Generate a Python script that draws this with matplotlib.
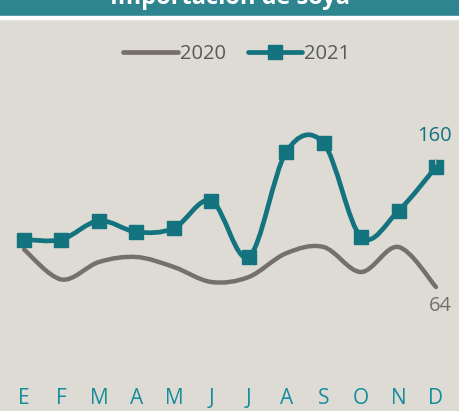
import matplotlib.pyplot as plt
import numpy as np
from matplotlib.path import Path
from matplotlib.patches import PathPatch
from matplotlib.lines import Line2D

meses = ['E', 'F', 'M', 'A', 'M', 'J', 'J', 'A', 'S', 'O', 'N', 'D']
y2020 = [94, 70, 84, 88, 80, 68, 72, 91, 96, 76, 96, 64]
y2021 = [102, 102, 117, 108, 111, 133, 88, 172, 179, 104, 125, 160]

fondo = '#dedbd5'
gris = '#75706a'
verde = '#13737f'

plt.rcParams['font.family'] = ['Open Sans', 'DejaVu Sans']


def suave(x, y):
    # curva suavizada tipo Excel (Bezier cubica)
    p = np.column_stack([x, y]).astype(float)
    p = np.vstack([p[0], p, p[-1]])
    verts = [p[1]]
    codes = [Path.MOVETO]
    for i in range(1, len(p) - 2):
        c1 = p[i] + (p[i + 1] - p[i - 1]) / 6
        c2 = p[i + 1] - (p[i + 2] - p[i]) / 6
        verts += [c1, c2, p[i + 1]]
        codes += [Path.CURVE4] * 3
    return Path(verts, codes)


fig = plt.figure(figsize=(4.6, 4.11), dpi=100, facecolor=fondo)
ax = fig.add_axes([5.3 / 460, 1 - 360 / 411, 449.4 / 460, 260 / 411])
ax.set_facecolor(fondo)

x = np.arange(len(meses))
ax.add_patch(PathPatch(suave(x, y2020), fill=False, ec=gris, lw=3.2, capstyle='round'))
ax.add_patch(PathPatch(suave(x, y2021), fill=False, ec=verde, lw=3.4, capstyle='round'))
ax.plot(x, y2021, 's', color=verde, ms=10, ls='none')

ax.annotate(str(y2021[-1]), (x[-1], y2021[-1]), xytext=(-1, 22), textcoords='offset points',
            ha='center', va='center', fontsize=14.5, color=verde,
            arrowprops=dict(arrowstyle='-', color='#b5b1ab', lw=1, shrinkA=7, shrinkB=2))
ax.annotate(str(y2020[-1]), (x[-1], y2020[-1]), xytext=(3.5, -14), textcoords='offset points',
            ha='center', va='center', fontsize=14.5, color=gris)

ax.set_xlim(-0.5, 11.5)
ax.set_ylim(5.6, 213.6)
ax.set_xticks(x)
ax.set_xticklabels(meses, color='#168d9b', fontsize=15)
ax.tick_params(length=0, pad=20)
ax.set_yticks([])
for s in ax.spines.values():
    s.set_visible(False)

# barra del titulo
fig.patches.append(plt.Rectangle((0, 1 - 16 / 411), 1, 16 / 411, transform=fig.transFigure,
                                 color='#2e8590', zorder=0))
fig.patches.append(plt.Rectangle((0, 1 - 19 / 411), 1, 3 / 411, transform=fig.transFigure,
                                 color='white', zorder=0))
fig.text(0.5, 1 + 2 / 411, 'Importación de soya', ha='center', va='center',
         color='white', fontsize=17, fontweight='bold')

handles = [Line2D([], [], color=gris, lw=3.4, solid_capstyle='round'),
           Line2D([], [], color=verde, lw=3.4, marker='s', ms=10, solid_capstyle='round')]
fig.legend(handles, ['2020', '2021'], loc='center', bbox_to_anchor=(0.515, 1 - 54 / 411),
           ncol=2, frameon=False, fontsize=14.5, labelcolor='#595959',
           handlelength=2.7, handletextpad=0.1, columnspacing=1.1)

fig.savefig('out.png', dpi=100, facecolor=fondo)
